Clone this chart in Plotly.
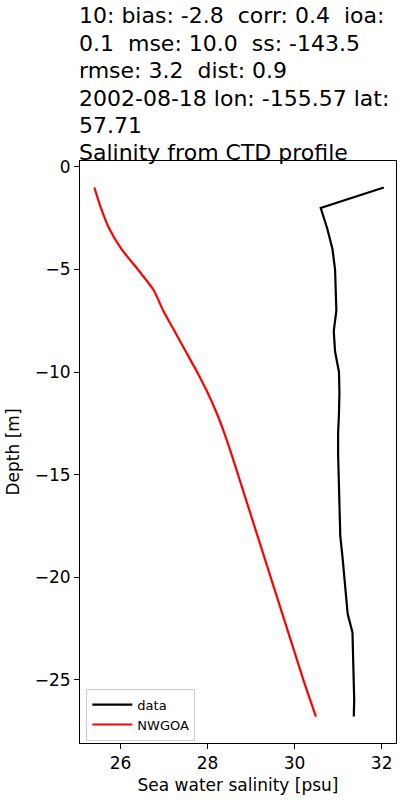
import plotly.graph_objects as go

depth_data = [-1, -2, -3, -4, -5, -6, -7, -8, -9, -10, -11, -12, -13, -14, -15,
              -16, -17, -18, -19, -20, -21, -21.8, -22.7, -24, -25, -26, -26.8]
sal_data = [32.05, 30.6, 30.75, 30.87, 30.93, 30.95, 30.96, 30.90, 30.93, 31.02, 31.03,
            31.02, 31.0, 31.0, 31.01, 31.02, 31.03, 31.05, 31.1, 31.14, 31.18, 31.22,
            31.33, 31.35, 31.37, 31.37, 31.36]

depth_model = [-1, -2, -3, -4, -5, -6, -7, -8, -9, -10, -11, -12, -13, -14, -15,
               -16, -17, -18, -19, -20, -21, -22, -23, -24, -25, -26, -26.8]
sal_model = [25.40, 25.55, 25.74, 26.02, 26.40, 26.76, 26.98, 27.24, 27.50, 27.76, 28.0,
             28.21, 28.39, 28.55, 28.70, 28.85, 29.0, 29.15, 29.30, 29.45, 29.60, 29.75,
             29.90, 30.05, 30.20, 30.36, 30.49]

title_lines = [
    "10: bias: -2.8  corr: 0.4  ioa:",
    "0.1  mse: 10.0  ss: -143.5",
    "rmse: 3.2  dist: 0.9",
    "2002-08-18 lon: -155.57 lat:",
    "57.71",
    "Salinity from CTD profile",
]

font = "DejaVu Sans"

fig = go.Figure()
fig.add_trace(go.Scatter(x=sal_data, y=depth_data, mode="lines", name="data",
                         line=dict(color="black", width=2.2)))
fig.add_trace(go.Scatter(x=sal_model, y=depth_model, mode="lines", name="NWGOA",
                         line=dict(color="red", width=2.2, shape="spline", smoothing=0.6)))

axis_common = dict(showgrid=False, zeroline=False, showline=True, linecolor="black",
                   linewidth=1, mirror=True, ticks="outside", ticklen=5, tickcolor="black",
                   tickfont=dict(family=font, size=17, color="black"))

fig.update_layout(
    width=400, height=800,
    margin=dict(l=80, r=4, t=161, b=57),
    paper_bgcolor="white", plot_bgcolor="white",
    font=dict(family=font, color="black"),
    showlegend=True,
    legend=dict(x=0.02, y=0.004, xanchor="left", yanchor="bottom",
                bgcolor="rgba(255,255,255,0.8)", bordercolor="#cccccc", borderwidth=1,
                font=dict(family=font, size=13, color="black"),
                itemwidth=40, tracegroupgap=0),
    xaxis=dict(range=[25.07, 32.33], tickvals=[26, 28, 30, 32],
               title=dict(text="Sea water salinity [psu]", font=dict(family=font, size=17),
                          standoff=6),
               **axis_common),
    yaxis=dict(range=[-28.09, 0.29], tickvals=[0, -5, -10, -15, -20, -25],
               ticktext=["0", "\u22125", "\u221210", "\u221215", "\u221220", "\u221225"],
               title=dict(text="Depth [m]", font=dict(family=font, size=17), standoff=10),
               **axis_common),
)

line_centers = [15, 43, 70, 98, 125, 152]
for txt, cy in zip(title_lines, line_centers):
    fig.add_annotation(text=txt, xref="paper", yref="paper",
                       x=0, y=1, xanchor="left", yanchor="middle", align="left",
                       showarrow=False, yshift=161 - cy, xshift=-3,
                       font=dict(family=font, size=22, color="black"))

fig.write_html("out.html", config={"displayModeBar": False},
               post_script="document.body.style.margin='0';document.body.style.overflow='hidden';")
